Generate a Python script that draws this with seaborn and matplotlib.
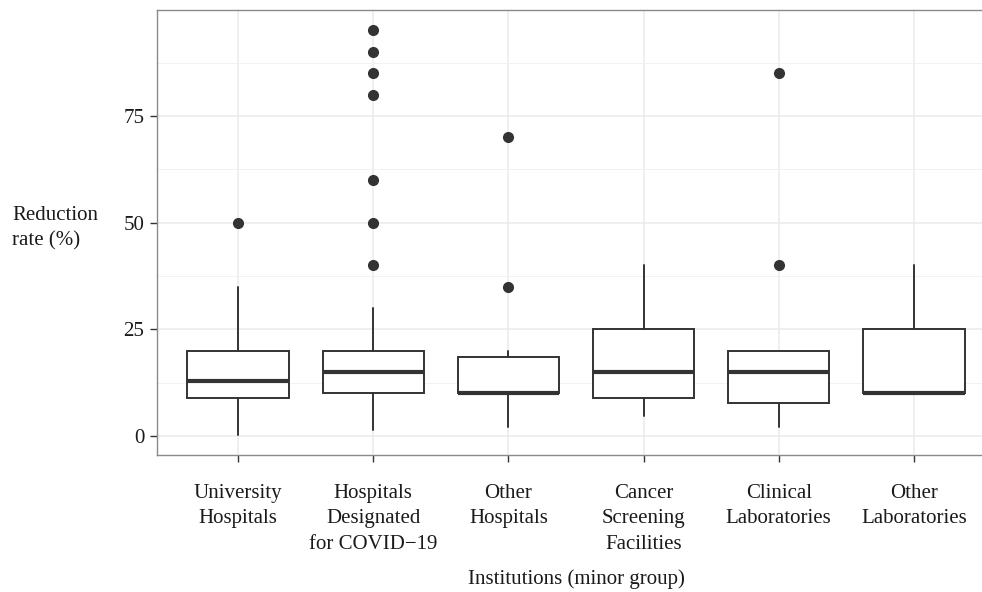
import matplotlib
matplotlib.use("Agg")
import matplotlib.pyplot as plt
from matplotlib.ticker import FixedLocator
import seaborn as sns

# ---- data (box statistics) ----
categories = ["University\nHospitals",
              "Hospitals\nDesignated\nfor COVID\u221219",
              "Other\nHospitals",
              "Cancer\nScreening\nFacilities",
              "Clinical\nLaboratories",
              "Other\nLaboratories"]
q1 = [9, 10, 10, 9, 7.7, 10]
median = [13, 15, 10, 15, 15, 10]
q3 = [20, 20, 18.4, 25, 20, 25]
whisker_low = [0.3, 1.4, 2.2, 4.8, 2.0, 10]
whisker_high = [35, 30, 20, 40, 20, 40]
outliers = [[50], [40, 50, 60, 80, 85, 90, 95], [35, 70], [], [40, 85], []]
yticks = [0, 25, 50, 75]
ylabel = "Reduction\nrate (%)"
xlabel = "Institutions (minor group)"

sns.set_theme(style="whitegrid")
plt.rcParams['font.family'] = ['Liberation Serif', 'Noto Sans CJK SC', 'DejaVu Sans']

W, H = 982, 592
fig = plt.figure(figsize=(W / 100, H / 100), dpi=100)
fig.patch.set_facecolor("white")
ax = fig.add_axes([157 / W, (H - 455) / H, (995 - 157) / W, (455 - 10) / H])
ax.set_facecolor("white")

stats = []
for i in range(len(categories)):
    stats.append(dict(q1=q1[i], med=median[i], q3=q3[i],
                      whislo=whisker_low[i], whishi=whisker_high[i],
                      fliers=outliers[i], label=categories[i]))

dark = "#333333"
ax.bxp(stats, positions=list(range(len(categories))), widths=0.75,
       showfliers=True, showcaps=False, patch_artist=True,
       boxprops=dict(facecolor="white", edgecolor=dark, linewidth=1.4),
       medianprops=dict(color=dark, linewidth=3.0, solid_capstyle="butt"),
       whiskerprops=dict(color=dark, linewidth=1.4),
       flierprops=dict(marker="o", markerfacecolor=dark, markeredgecolor=dark,
                       markersize=7, linestyle="none"),
       zorder=3)

ax.set_xlim(-0.6, 5.6)
ax.set_ylim(-4.45, 99.8)
ax.set_xticks(list(range(len(categories))))
ax.set_xticklabels(categories, fontsize=15, color="#1a1a1a", linespacing=1.45)
ax.set_yticks(yticks)
ax.set_yticklabels([str(t) for t in yticks], fontsize=15, color="#1a1a1a")
ax.yaxis.set_minor_locator(FixedLocator([12.5, 37.5, 62.5, 87.5]))

ax.set_axisbelow(True)
ax.grid(which="major", axis="both", color="#EBEBEB", linewidth=1.1)
ax.grid(which="minor", axis="y", color="#F2F2F2", linewidth=0.7)
ax.tick_params(axis="both", which="major", length=5, width=1.0, color=dark,
               direction="out", left=True, bottom=True)
ax.tick_params(axis="x", pad=16)
ax.tick_params(axis="y", pad=4)
ax.tick_params(which="minor", length=0)
for s in ax.spines.values():
    s.set_color("#8a8a8a")
    s.set_linewidth(1.0)

fig.text(12 / W, 1 - 228 / H, ylabel, ha="left", va="center", fontsize=15,
         color="#1a1a1a", linespacing=1.45)
fig.text(576 / W, 1 - 579 / H, xlabel, ha="center", va="center", fontsize=15,
         color="#1a1a1a")

fig.savefig("out.png", dpi=100, facecolor="white")
